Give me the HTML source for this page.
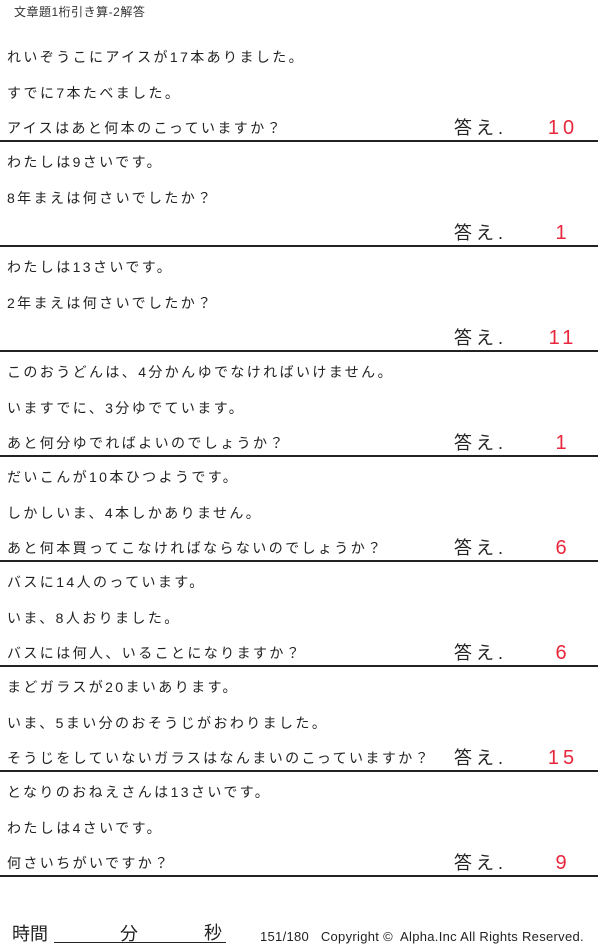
<!DOCTYPE html>
<html><head><meta charset="utf-8"><style>
body{margin:0;width:600px;height:949px;background:#fff;position:relative;font-family:"Liberation Sans","Noto Sans CJK JP",sans-serif;color:#222;overflow:hidden}
.t{position:absolute;left:7px;font-size:14px;letter-spacing:2.4px;white-space:nowrap;line-height:16px}
.a{position:absolute;left:454px;font-size:18px;letter-spacing:4px;line-height:20px;white-space:nowrap}
.n{position:absolute;left:530px;width:66px;text-align:center;font-size:20px;color:#e8263c;line-height:20px;letter-spacing:4px;font-weight:300}
.l{position:absolute;left:0;width:598px;height:2px;background:#222}
</style></head><body>
<div style="position:absolute;left:14px;top:5px;font-size:12px;line-height:14px;letter-spacing:0.5px;color:#333">文章題1桁引き算-2解答</div>
<div id="c"></div>
<script>
var d=[["れいぞうこにアイスが17本ありました。","すでに7本たべました。","アイスはあと何本のこっていますか？","10"],
["わたしは9さいです。","8年まえは何さいでしたか？","","1"],
["わたしは13さいです。","2年まえは何さいでしたか？","","11"],
["このおうどんは、4分かんゆでなければいけません。","いますでに、3分ゆでています。","あと何分ゆでればよいのでしょうか？","1"],
["だいこんが10本ひつようです。","しかしいま、4本しかありません。","あと何本買ってこなければならないのでしょうか？","6"],
["バスに14人のっています。","いま、8人おりました。","バスには何人、いることになりますか？","6"],
["まどガラスが20まいあります。","いま、5まい分のおそうじがおわりました。","そうじをしていないガラスはなんまいのこっていますか？","15"],
["となりのおねえさんは13さいです。","わたしは4さいです。","何さいちがいですか？","9"]];
var h="";
d.forEach(function(r,i){var o=105*i;
h+='<div class="t" style="top:'+(49+o)+'px">'+r[0]+'</div>';
h+='<div class="t" style="top:'+(85+o)+'px">'+r[1]+'</div>';
if(r[2])h+='<div class="t" style="top:'+(120+o)+'px">'+r[2]+'</div>';
h+='<div class="a" style="top:'+(118+o)+'px">答え.</div>';
h+='<div class="n" style="top:'+(118+o)+'px">'+r[3]+'</div>';
h+='<div class="l" style="top:'+(140+o)+'px"></div>';});
document.getElementById("c").innerHTML=h;
</script>
<div style="position:absolute;left:12px;top:924px;font-size:18px;line-height:20px">時間</div>
<div style="position:absolute;left:54px;top:942px;width:172px;height:1px;background:#222"></div>
<div style="position:absolute;left:120px;top:924px;font-size:18px;line-height:20px">分</div>
<div style="position:absolute;left:204px;top:923px;font-size:18px;line-height:20px">秒</div>
<div style="position:absolute;left:260px;top:930px;font-size:13px;line-height:14px;white-space:nowrap;letter-spacing:0.3px">151/180&nbsp;&nbsp;&nbsp;Copyright ©&nbsp; Alpha.Inc All Rights Reserved.</div>
</body></html>
